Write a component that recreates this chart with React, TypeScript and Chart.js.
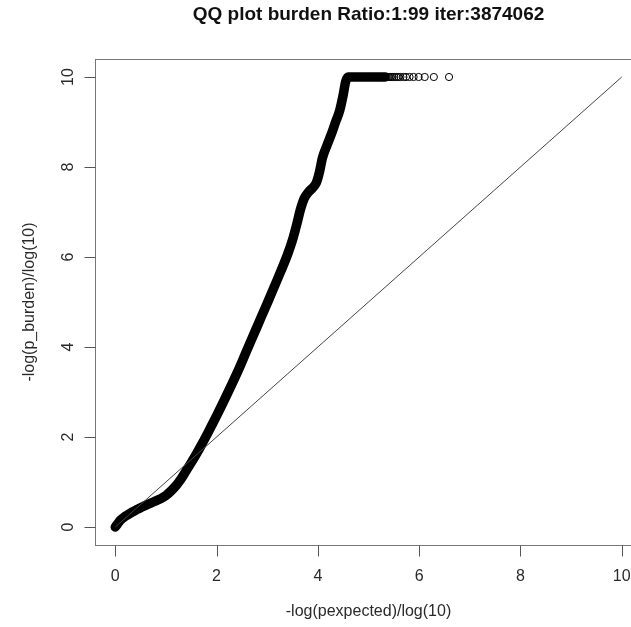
import React, { useEffect, useRef } from "react";
import { Chart, registerables } from "chart.js";

Chart.register(...registerables);

// Main QQ curve (dense run of points)
const expectedQ = [
  0, 0.04, 0.1, 0.2, 0.3, 0.4, 0.5, 0.6, 0.7, 0.8, 0.9, 1.0, 1.1, 1.2, 1.3, 1.4,
  1.5, 1.6, 1.7, 1.8, 1.9, 2.0, 2.2, 2.4, 2.6, 2.8, 3.0, 3.2, 3.4, 3.5, 3.6,
  3.65, 3.73, 3.82, 3.9, 3.97, 4.03, 4.09, 4.18, 4.27, 4.35, 4.43, 4.5, 4.55,
  4.6, 4.8, 5.0, 5.2, 5.33,
];
const observedQ = [
  0, 0.06, 0.15, 0.24, 0.31, 0.37, 0.43, 0.48, 0.53, 0.58, 0.63, 0.7, 0.8, 0.92,
  1.07, 1.25, 1.43, 1.62, 1.82, 2.03, 2.25, 2.47, 2.93, 3.41, 3.93, 4.45, 4.97,
  5.5, 6.05, 6.38, 6.8, 7.03, 7.3, 7.45, 7.54, 7.65, 7.88, 8.2, 8.48, 8.74, 9.0,
  9.25, 9.6, 9.9, 10, 10, 10, 10, 10,
];

// Sparse tail of individual open circles at the cap of 10
const tailExpected = [
  6.59, 6.29, 6.11, 5.99, 5.89, 5.81, 5.74, 5.69, 5.63, 5.59, 5.55, 5.51, 5.47,
  5.44, 5.41, 5.38, 5.33, 5.29, 5.19, 5.11,
];
const tailObserved = [
  10, 10, 10, 10, 10, 10, 10, 10, 10, 10, 10, 10, 10, 10, 10, 10, 10, 10, 10, 10,
];

// Reference line y = x
const diagX = [0, 10];
const diagY = [0, 10];

const xTicks = [0, 2, 4, 6, 8, 10];
const yTicks = [0, 2, 4, 6, 8, 10];

const titleText = "QQ plot burden Ratio:1:99 iter:3874062";
const xTitle = "-log(pexpected)/log(10)";
const yTitle = "-log(p_burden)/log(10)";

const CANVAS_W = 680;
const CANVAS_H = 627;
const FONT = "'Liberation Sans', Arial, Helvetica, sans-serif";

const rAxesPlugin = {
  id: "rAxes",
  afterDraw(chart: any) {
    const { ctx, chartArea, scales } = chart;
    const xs = scales.x;
    const ys = scales.y;
    ctx.save();
    // box
    ctx.strokeStyle = "#777";
    ctx.lineWidth = 1;
    ctx.strokeRect(
      Math.round(chartArea.left) + 0.5,
      Math.round(chartArea.top) + 0.5,
      Math.round(chartArea.right - chartArea.left),
      Math.round(chartArea.bottom - chartArea.top)
    );
    // ticks
    ctx.strokeStyle = "#555";
    const tickLen = 11;
    const bottom = Math.round(chartArea.bottom) + 0.5;
    const left = Math.round(chartArea.left) + 0.5;
    ctx.beginPath();
    xTicks.forEach((v) => {
      const px = Math.round(xs.getPixelForValue(v)) + 0.5;
      ctx.moveTo(px, bottom);
      ctx.lineTo(px, bottom + tickLen);
    });
    yTicks.forEach((v) => {
      const py = Math.round(ys.getPixelForValue(v)) + 0.5;
      ctx.moveTo(left, py);
      ctx.lineTo(left - tickLen, py);
    });
    ctx.stroke();

    // tick labels
    ctx.fillStyle = "#2a2a2a";
    ctx.font = `16px ${FONT}`;
    ctx.textAlign = "center";
    ctx.textBaseline = "middle";
    xTicks.forEach((v) => {
      ctx.fillText(String(v), xs.getPixelForValue(v), chartArea.bottom + 32);
    });
    yTicks.forEach((v) => {
      const py = ys.getPixelForValue(v);
      ctx.save();
      ctx.translate(chartArea.left - 26, py);
      ctx.rotate(-Math.PI / 2);
      ctx.fillText(String(v), 0, 0);
      ctx.restore();
    });

    // axis titles
    const cx = (chartArea.left + chartArea.right) / 2;
    const cy = (chartArea.top + chartArea.bottom) / 2;
    ctx.fillText(xTitle, cx, chartArea.bottom + 67);
    ctx.save();
    ctx.translate(chartArea.left - 65, cy);
    ctx.rotate(-Math.PI / 2);
    ctx.fillText(yTitle, 0, 0);
    ctx.restore();

    // main title
    ctx.fillStyle = "#111";
    ctx.font = `bold 19px ${FONT}`;
    ctx.fillText(titleText, cx, 15);
    ctx.restore();
  },
};

export default function App() {
  const canvasRef = useRef<HTMLCanvasElement | null>(null);

  useEffect(() => {
    const canvas = canvasRef.current;
    if (!canvas) return;
    const chart = new Chart(canvas, {
      type: "scatter",
      data: {
        datasets: [
          {
            label: "curve",
            data: expectedQ.map((x, i) => ({ x, y: observedQ[i] })),
            showLine: true,
            borderColor: "#000",
            borderWidth: 9.5,
            borderCapStyle: "round",
            borderJoinStyle: "round",
            cubicInterpolationMode: "monotone",
            pointRadius: 0,
            order: 2,
          } as any,
          {
            label: "tail",
            data: tailExpected.map((x, i) => ({ x, y: tailObserved[i] })),
            pointStyle: "circle",
            pointRadius: 3.6,
            borderWidth: 1,
            borderColor: "#000",
            backgroundColor: "rgba(0,0,0,0)",
            order: 3,
          },
          {
            label: "diag",
            data: diagX.map((x, i) => ({ x, y: diagY[i] })),
            showLine: true,
            borderColor: "#444",
            borderWidth: 1,
            pointRadius: 0,
            order: 1,
          },
        ],
      },
      options: {
        responsive: false,
        animation: false,
        devicePixelRatio: 1,
        layout: {
          padding: { left: 95, top: 59, right: CANVAS_W - 642, bottom: CANVAS_H - 545 },
        },
        plugins: {
          legend: { display: false },
          tooltip: { enabled: false },
          title: { display: false },
        },
        scales: {
          x: { type: "linear", min: -0.4, max: 10.4, display: false },
          y: { type: "linear", min: -0.4, max: 10.4, display: false },
        },
      },
      plugins: [rAxesPlugin],
    });
    return () => chart.destroy();
  }, []);

  return (
    <div
      style={{
        position: "fixed",
        left: 0,
        top: 0,
        width: 631,
        height: 627,
        overflow: "hidden",
        background: "#fff",
      }}
    >
      <canvas
        ref={canvasRef}
        width={CANVAS_W}
        height={CANVAS_H}
        style={{ width: CANVAS_W, height: CANVAS_H, display: "block" }}
      />
    </div>
  );
}
